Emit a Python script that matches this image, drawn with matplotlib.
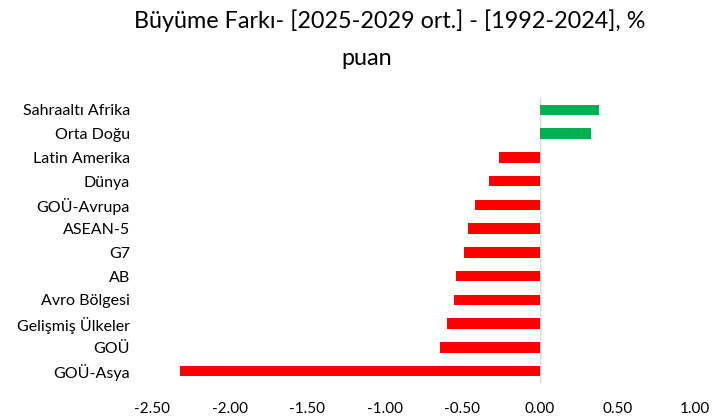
import matplotlib.pyplot as plt

plt.rcParams['font.family'] = ['Lato', 'DejaVu Sans']

regions = ['Sahraaltı Afrika', 'Orta Doğu', 'Latin Amerika', 'Dünya', 'GOÜ-Avrupa',
           'ASEAN-5', 'G7', 'AB', 'Avro Bölgesi', 'Gelişmiş Ülkeler', 'GOÜ', 'GOÜ-Asya']
gap = [0.38, 0.33, -0.26, -0.33, -0.42, -0.46, -0.49, -0.54, -0.55, -0.60, -0.64, -2.32]
xticks = [-2.5, -2.0, -1.5, -1.0, -0.5, 0.0, 0.5, 1.0]

colors = ['#00B050' if v > 0 else '#FF0000' for v in gap]
ypos = list(range(len(regions)))[::-1]

fig = plt.figure(figsize=(7.14, 4.19), dpi=100)
ax = fig.add_axes([0.213, 0.086, 0.76, 0.68])
ax.barh(ypos, gap, height=0.45, color=colors)
ax.set_yticks(ypos)
ax.set_yticklabels(regions, fontsize=11.5)
ax.set_xticks(xticks)
ax.set_xticklabels([f'{t:.2f}' for t in xticks], fontsize=11)
ax.set_xlim(-2.5, 1.0)
ax.set_ylim(-0.5, len(regions) - 0.5)
for s in ax.spines.values():
    s.set_visible(False)
ax.axvline(0, color='#d9d9d9', lw=1, zorder=0)
ax.tick_params(length=0)
ax.tick_params(axis='y', pad=16)
ax.tick_params(axis='x', pad=14)

fig.text(0.546, 0.95, 'Büyüme Farkı- [2025-2029 ort.] - [1992-2024], %', ha='center', va='center', fontsize=16.8)
fig.text(0.513, 0.86, 'puan', ha='center', va='center', fontsize=16.8)

fig.savefig('out.png', dpi=100)
